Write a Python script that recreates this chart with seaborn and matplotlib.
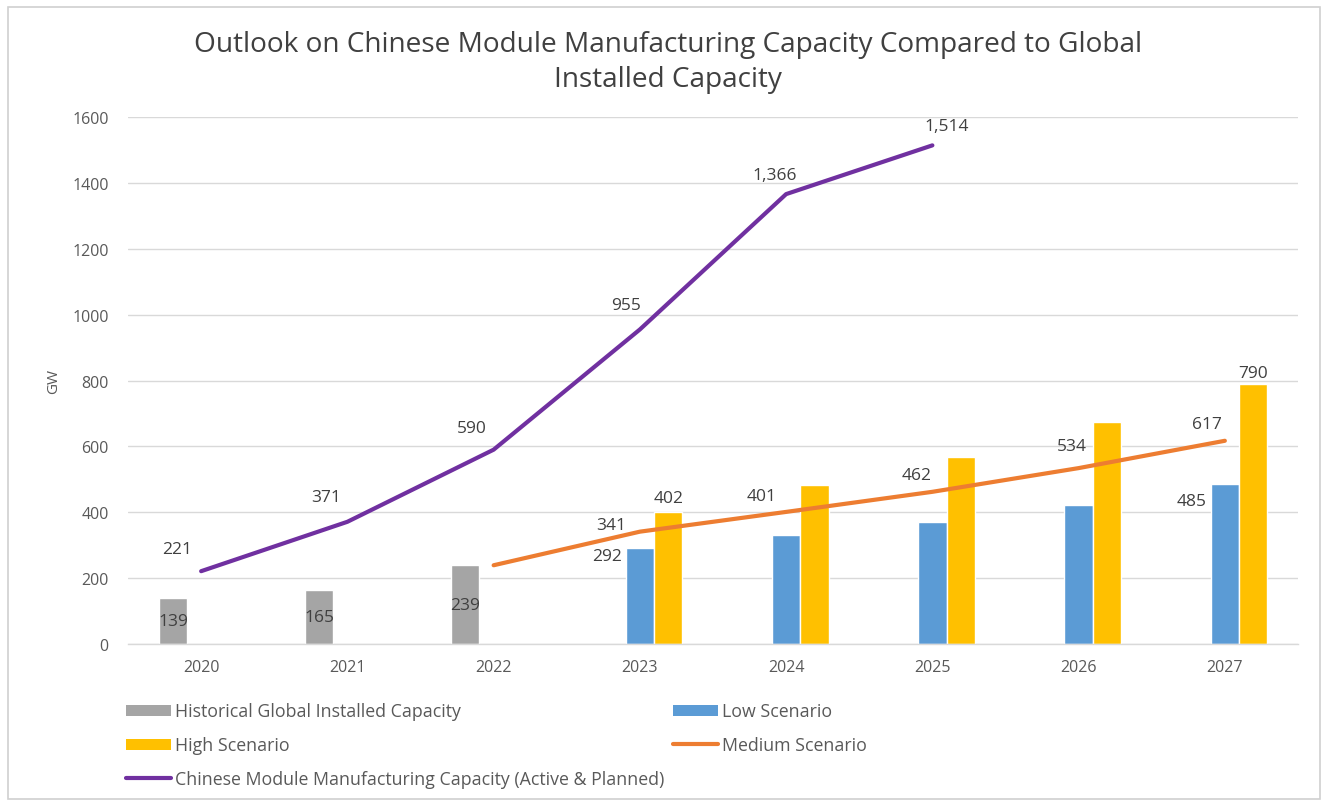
import numpy as np
import pandas as pd
import matplotlib
matplotlib.use("Agg")
import matplotlib.pyplot as plt
from matplotlib.patches import Patch, Rectangle
from matplotlib.lines import Line2D
import seaborn as sns

# ---------------- data ----------------
years = ["2020", "2021", "2022", "2023", "2024", "2025", "2026", "2027"]

hist_years = ["2020", "2021", "2022"]
hist_vals = [139, 165, 239]

low_years = ["2023", "2024", "2025", "2026", "2027"]
low_vals = [292, 330, 370, 422, 485]

high_years = ["2023", "2024", "2025", "2026", "2027"]
high_vals = [402, 482, 567, 675, 790]

medium_years = ["2022", "2023", "2024", "2025", "2026", "2027"]
medium_vals = [239, 341, 401, 462, 534, 617]
medium_labels = [None, "341", "401", "462", "534", "617"]

china_years = ["2020", "2021", "2022", "2023", "2024", "2025"]
china_vals = [221, 371, 590, 955, 1366, 1514]
china_labels = ["221", "371", "590", "955", "1,366", "1,514"]

y_ticks = [0, 200, 400, 600, 800, 1000, 1200, 1400, 1600]

S_HIST = "Historical Global Installed Capacity"
S_LOW = "Low Scenario"
S_HIGH = "High Scenario"
S_MED = "Medium Scenario"
S_CN = "Chinese Module Manufacturing Capacity (Active & Planned)"

C_HIST = "#A5A5A5"
C_LOW = "#5B9BD5"
C_HIGH = "#FFC000"
C_MED = "#ED7D31"
C_CN = "#7030A0"
TXT = "#404040"
TICK = "#595959"
GRID = "#D9D9D9"

bars = pd.DataFrame({
    "year": hist_years + low_years + high_years,
    "value": hist_vals + low_vals + high_vals,
    "series": [S_HIST] * len(hist_vals) + [S_LOW] * len(low_vals) + [S_HIGH] * len(high_vals),
})

# ---------------- figure ----------------
sns.set_theme(style="white")
plt.rcParams["font.family"] = ["Open Sans", "DejaVu Sans"]

fig = plt.figure(figsize=(13.28, 8.03), dpi=100)
fig.patches.append(Rectangle((0.006, 0.004), 0.988, 0.986, transform=fig.transFigure,
                             fill=False, edgecolor="#D0D0D0", linewidth=1.2))
ax = fig.add_axes([0.0964, 0.1968, 0.881, 0.6562])

sns.barplot(data=bars, x="year", y="value", hue="series", order=years,
            hue_order=[S_HIST, S_LOW, S_HIGH],
            palette={S_HIST: C_HIST, S_LOW: C_LOW, S_HIGH: C_HIGH},
            width=0.58, saturation=1, legend=False, ax=ax, zorder=2)

pos = {y: i for i, y in enumerate(years)}
cx = [pos[y] for y in china_years]
mx = [pos[y] for y in medium_years]
sns.lineplot(x=cx, y=china_vals, color=C_CN, linewidth=3.0, ax=ax, zorder=3)
sns.lineplot(x=mx, y=medium_vals, color=C_MED, linewidth=3.0, ax=ax, zorder=3)

ax.set_xlim(-0.5, 7.5)
ax.set_ylim(0, 1600)
ax.set_yticks(y_ticks)
ax.grid(axis="y", color=GRID, linewidth=1)
ax.set_axisbelow(True)
for s in ["left", "right", "top"]:
    ax.spines[s].set_visible(False)
ax.spines["bottom"].set_color(GRID)
ax.spines["bottom"].set_linewidth(1)
ax.tick_params(axis="both", length=0, labelsize=11.5, labelcolor=TICK)
ax.tick_params(axis="y", pad=14)
ax.tick_params(axis="x", pad=11)
ax.set_xlabel("")
ax.set_ylabel("GW", fontsize=11, color=TICK, labelpad=8)

fs = 12.5
# bar labels
hist_c, low_c, high_c = ax.containers[0], ax.containers[1], ax.containers[2]
ax.bar_label(hist_c, labels=[str(v) for v in hist_vals], label_type="center",
             fontsize=fs, color=TXT)
low_show = {0: (-3, 0), len(low_vals) - 1: (-3, -6)}
for i, p in enumerate(low_c.patches):
    if i in low_show:
        ax.annotate(str(low_vals[i]), (p.get_x(), p.get_height()),
                    xytext=low_show[i], textcoords="offset points",
                    ha="right", va="top", fontsize=fs, color=TXT)
high_show = {0: 4, len(high_vals) - 1: 2}
for i, p in enumerate(high_c.patches):
    if i in high_show:
        ax.annotate(str(high_vals[i]), (p.get_x() + p.get_width() / 2, p.get_height()),
                    xytext=(0, high_show[i]), textcoords="offset points",
                    ha="center", va="bottom", fontsize=fs, color=TXT)

# line labels
cn_off = [(-17, 10), (-15, 12), (-16, 10), (-10, 12), (-8, 8), (10, 8)]
for x, v, t, o in zip(cx, china_vals, china_labels, cn_off):
    ax.annotate(t, (x, v), xytext=o, textcoords="offset points",
                ha="center", va="bottom", fontsize=fs, color=TXT)
med_off = [None, (-21, -1), (-18, 6), (-11, 6), (-5, 10), (-13, 6)]
for x, v, t, o in zip(mx, medium_vals, medium_labels, med_off):
    if t is None:
        continue
    ax.annotate(t, (x, v), xytext=o, textcoords="offset points",
                ha="center", va="bottom", fontsize=fs, color=TXT)

fig.text(0.503, 0.922, "Outlook on Chinese Module Manufacturing Capacity Compared to Global\nInstalled Capacity",
         ha="center", va="center", fontsize=20.2, color=TXT, linespacing=1.3)

handles = [
    Patch(facecolor=C_HIST, edgecolor="none"),
    Patch(facecolor=C_HIGH, edgecolor="none"),
    Line2D([0], [0], color=C_CN, linewidth=3.0),
    Patch(facecolor=C_LOW, edgecolor="none"),
    Line2D([0], [0], color=C_MED, linewidth=3.0),
]
labels = [S_HIST, S_HIGH, S_CN, S_LOW, S_MED]
leg = fig.legend(handles, labels, ncol=2, loc="upper left", bbox_to_anchor=(0.095, 0.124),
                 frameon=False, fontsize=12.8, labelcolor=TICK, handlelength=2.5,
                 handleheight=0.6, handletextpad=0.25, columnspacing=0.5, labelspacing=0.9,
                 borderaxespad=0, borderpad=0)

fig.savefig("out.png", dpi=100)
